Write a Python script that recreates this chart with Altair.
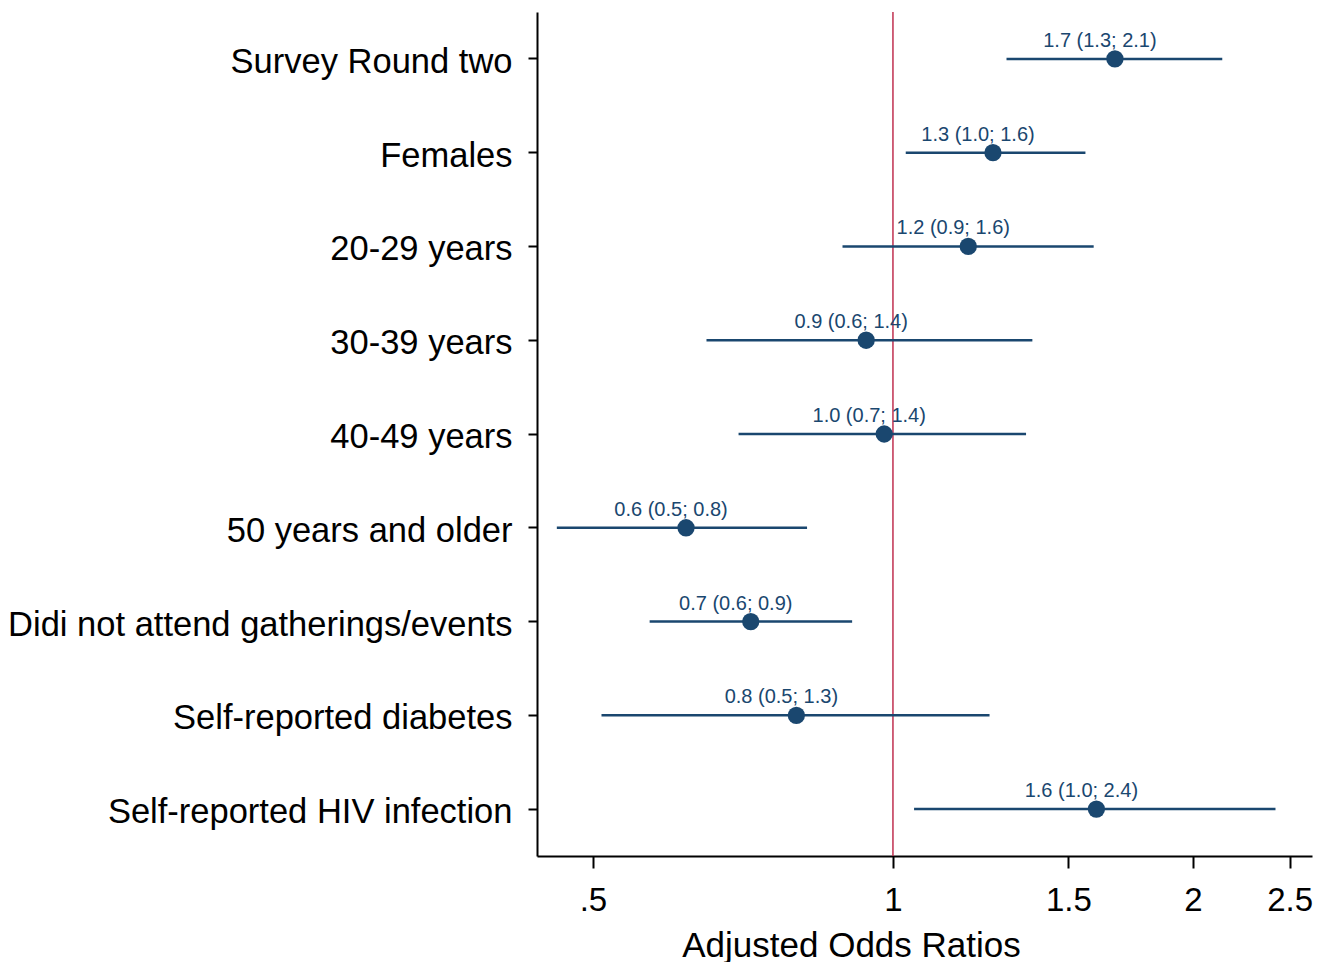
import altair as alt
import pandas as pd

categories = ["Survey Round two", "Females", "20-29 years", "30-39 years", "40-49 years",
              "50 years and older", "Didi not attend gatherings/events",
              "Self-reported diabetes", "Self-reported HIV infection"]
aor = [1.67, 1.26, 1.19, 0.94, 0.98, 0.62, 0.72, 0.80, 1.60]
lower = [1.30, 1.03, 0.89, 0.65, 0.70, 0.46, 0.57, 0.51, 1.05]
upper = [2.14, 1.56, 1.59, 1.38, 1.36, 0.82, 0.91, 1.25, 2.42]
labels = ["1.7 (1.3; 2.1)", "1.3 (1.0; 1.6)", "1.2 (0.9; 1.6)", "0.9 (0.6; 1.4)",
          "1.0 (0.7; 1.4)", "0.6 (0.5; 0.8)", "0.7 (0.6; 0.9)", "0.8 (0.5; 1.3)",
          "1.6 (1.0; 2.4)"]
tick_values = [0.5, 1, 1.5, 2, 2.5]
ref_value = [1]

df = pd.DataFrame({"cat": categories, "aor": aor, "lo": lower, "hi": upper, "lab": labels})
ref = pd.DataFrame({"x": ref_value})

FONT = "Liberation Sans"
NAVY = "#1a476f"

xscale = alt.Scale(type="log", domain=[0.4394, 2.633], nice=False, zero=False)
yenc = alt.Y("cat:N", sort=categories, title=None,
             axis=alt.Axis(labelFontSize=34.5, labelFont=FONT, labelColor="black",
                           labelPadding=16, tickSize=9, tickWidth=2, tickColor="black",
                           domainColor="black", domainWidth=2, labelOffset=4,
                           labelLimit=1000, grid=False))
xaxis = alt.Axis(values=tick_values, labelExpr="datum.value == 0.5 ? '.5' : datum.label",
                 labelFontSize=33, labelFont=FONT, labelColor="black", tickSize=12,
                 tickWidth=2, tickColor="black", domainColor="black", domainWidth=2,
                 labelPadding=16, grid=False, title="Adjusted Odds Ratios",
                 titleFontSize=35, titleFont=FONT, titleFontWeight="normal",
                 titleColor="black", titleX=314, titleY=100, titleAlign="center",
                 titleBaseline="alphabetic", labelFlush=False)

refline = alt.Chart(ref).mark_rule(color="#c0304f", strokeWidth=1.5).encode(
    x=alt.X("x:Q", scale=xscale, axis=xaxis))

base = alt.Chart(df)
ci = base.mark_rule(color=NAVY, strokeWidth=2.5).encode(
    x=alt.X("lo:Q", scale=xscale, axis=xaxis), x2="hi:Q", y=yenc)
pts = base.mark_point(filled=True, color=NAVY, opacity=1, size=300).encode(
    x=alt.X("aor:Q", scale=xscale, axis=xaxis), y=yenc)
txt = base.mark_text(color=NAVY, fontSize=20, font=FONT, dx=-15, dy=-12,
                     baseline="alphabetic", align="center").encode(
    x=alt.X("aor:Q", scale=xscale, axis=xaxis), y=yenc, text="lab:N")

chart = alt.layer(refline, ci, pts, txt).properties(
    width=775, height=844,
    autosize=alt.AutoSizeParams(type="none"),
    padding={"left": 529, "top": 4, "right": 10, "bottom": 106},
).configure(background="white", view=alt.ViewConfig(strokeWidth=0, strokeOpacity=0))

chart.save("out.html", embed_options={"renderer": "svg", "actions": False})
